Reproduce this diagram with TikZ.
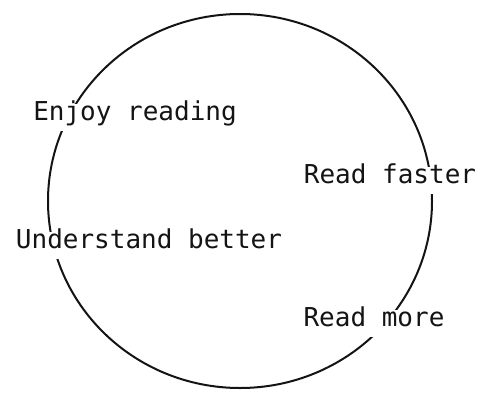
\documentclass[tikz,border=0pt]{standalone}
\usepackage{fontspec}
\setmonofont{DejaVu Sans Mono}
\usepackage{xcolor}
\usetikzlibrary{positioning}
\definecolor{inkdark}{RGB}{20,20,20}

\begin{document}
\begin{tikzpicture}[x=1pt, y=1pt,
  cyclelabel/.style={fill=white, text=inkdark, inner xsep=2pt, inner ysep=8.5pt,
    font=\ttfamily\fontsize{26}{30}\selectfont,
    text height=0.75em, text depth=0.25em, anchor=base}]
\useasboundingbox (0,0) rectangle (481,392);
% The reading cycle: one slightly flattened loop, broken where the
% four stages sit on it (white label boxes cover the line).
\coordinate (hub) at (240,191);
\draw[inkdark, line width=2pt] (hub) ellipse [x radius=192, y radius=187];
% Stages, clockwise from upper left
\node[cyclelabel] (enjoy) at (135,272) {Enjoy reading};
\node[cyclelabel] (faster) at (390,209) {Read faster};
\node[cyclelabel] (more) at (374,66) {Read more};
\node[cyclelabel] (understand) at (149,144) {Understand better};
\end{tikzpicture}
\end{document}
